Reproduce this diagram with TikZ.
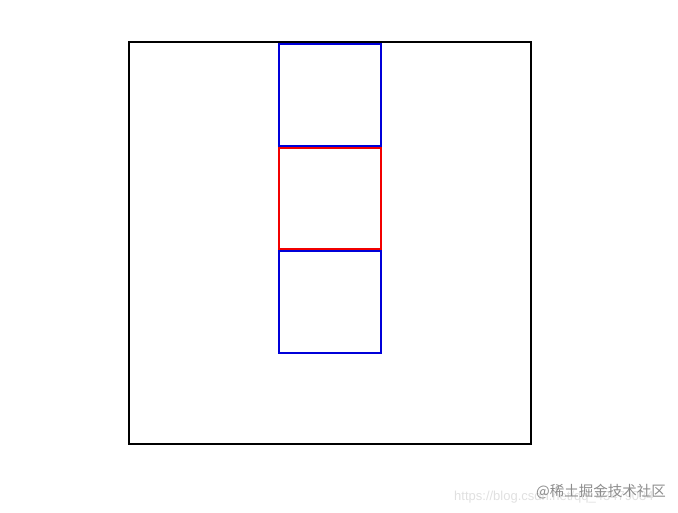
\documentclass[tikz,border=0pt]{standalone}
\usepackage{fontspec}
\newfontfamily\cjk{Noto Sans CJK SC}
\setsansfont{Liberation Sans}
\colorlet{blx}{blue!85!black}
\colorlet{rdx}{red!95!black}
\tikzset{
    cell/.style={line width=2pt},
    mark text/.style={inner sep=0pt, anchor=base west}
}

\begin{document}
\begin{tikzpicture}[x=1pt,y=-1pt]
    \useasboundingbox (0,0) rectangle (678,513);
    % outer frame
    \draw[line width=2pt] (129,42) rectangle (531,443.5);
    % column of three cells
    \draw[cell,blx] (279,44) rectangle (381,146);
    \draw[cell,rdx] (279,148) rectangle (381,249);
    \draw[cell,blx] (279,251) rectangle (381,353);
    % watermark
    \node[mark text,text=black!12] (url) at (454,500)
        {\sffamily\fontsize{13}{13}\selectfont https://blog.csdn.net/qq\_43479034};
    \node[mark text,text=black!45] (site) at (536,496)
        {\cjk\fontsize{14.5}{14.5}\selectfont @稀土掘金技术社区};
\end{tikzpicture}
\end{document}
